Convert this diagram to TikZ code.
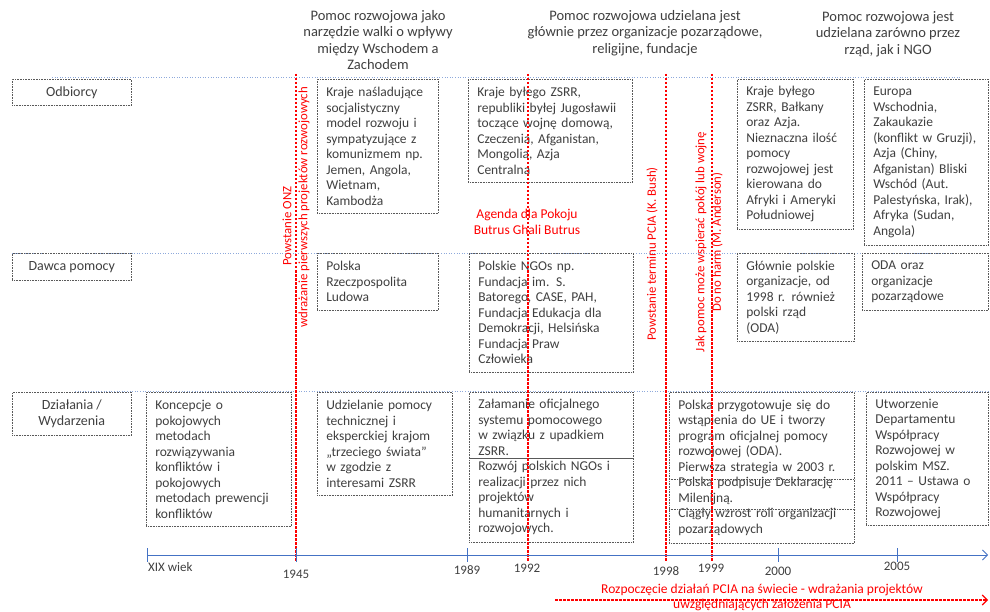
\documentclass[tikz,border=0pt]{standalone}
\usepackage{fontspec}
\setmainfont{Carlito}
\usepackage{tikz}
\usetikzlibrary{arrows.meta}
\definecolor{txtgray}{HTML}{404040}
\definecolor{boxgray}{HTML}{595959}
\definecolor{gridblue}{HTML}{8EA9DB}
\definecolor{axisblue}{HTML}{4472C4}
\definecolor{markred}{HTML}{FF0000}

\begin{document}
\begin{tikzpicture}[
    x=1pt, y=-1pt,
    font=\fontsize{13.5}{15.5}\selectfont,
    lbl/.style={draw=boxgray, densely dotted, line width=0.6pt, anchor=north west, minimum width=119pt, align=center, text=txtgray, inner sep=2pt, font=\fontsize{14}{16}\selectfont},
    cell/.style={draw=boxgray, densely dotted, line width=0.6pt, anchor=north west, align=left, inner xsep=9pt, inner ysep=5pt, text=txtgray},
    head/.style={align=center, text=txtgray, font=\fontsize{14.5}{16.3}\selectfont},
    gridline/.style={draw=gridblue, dotted, line width=0.6pt},
    redline/.style={draw=markred, dash pattern=on 2.5pt off 1.5pt, line width=1.1pt},
    redtxt/.style={text=markred, align=center, inner sep=1pt, font=\fontsize{12.8}{16.5}\selectfont},
    axis/.style={draw=axisblue, line width=0.8pt},
    yr/.style={text=txtgray, inner sep=1pt, font=\fontsize{13}{15}\selectfont},
    barb/.style={-{Straight Barb[length=5pt, width=10pt]}},
  ]
  \fill[white] (0,0) rectangle (990,612);
  \useasboundingbox (0,0) rectangle (990,612);

  % headers
  \node[head] (h1) at (378,40) {Pomoc rozwojowa jako\\narzędzie walki o wpływy\\między Wschodem a\\Zachodem};
  \node[head] (h2) at (645,33) {Pomoc rozwojowa udzielana jest\\głównie przez organizacje pozarządowe,\\religijne, fundacje};
  \node[head] (h3) at (888,34) {Pomoc rozwojowa jest\\udzielana zarówno przez\\rząd, jak i NGO};

  % row lines
  \draw[gridline] (52,77) -- (960,77);
  \draw[gridline] (12,253) -- (990,253);
  \draw[gridline] (75,391) -- (990,391);

  % row labels
  \node[lbl, minimum height=26pt] (odb) at (12,79) {Odbiorcy};
  \node[lbl, minimum height=27pt] (daw) at (12,253) {Dawca pomocy};
  \node[lbl, minimum height=43pt] (dzi) at (12,392) {Działania /\\Wydarzenia};

  % Odbiorcy
  \node[cell, text width=103pt, minimum height=134pt] (odbA) at (317,79) {Kraje naśladujące\\socjalistyczny\\model rozwoju i\\sympatyzujące z\\komunizmem np.\\Jemen, Angola,\\Wietnam,\\Kambodża};
  \node[cell, text width=146pt, minimum height=103pt] (odbB) at (468,79) {Kraje byłego ZSRR,\\republiki byłej Jugosławii\\toczące wojnę domową,\\Czeczenia, Afganistan,\\Mongolia, Azja\\Centralna};
  \node[cell, text width=98pt, minimum height=150pt] (odbC) at (737,79) {Kraje byłego\\ZSRR, Bałkany\\oraz Azja.\\Nieznaczna ilość\\pomocy\\rozwojowej jest\\kierowana do\\Afryki i Ameryki\\Południowej};
  \node[cell, text width=106pt, minimum height=166pt] (odbD) at (864,79) {Europa\\Wschodnia,\\Zakaukazie\\(konflikt w Gruzji),\\Azja (Chiny,\\Afganistan) Bliski\\Wschód (Aut.\\Palestyńska, Irak),\\Afryka (Sudan,\\Angola)};

  % Dawca pomocy
  \node[cell, text width=103pt, minimum height=57pt] (dawA) at (317,253) {Polska\\Rzeczpospolita\\Ludowa};
  \node[cell, text width=146pt, minimum height=119pt] (dawB) at (469,253) {Polskie NGOs np.\\Fundacja im. S.\\Batorego, CASE, PAH,\\Fundacja Edukacja dla\\Demokracji, Helsińska\\Fundacja Praw\\Człowieka};
  \node[cell, text width=99pt, minimum height=88pt] (dawC) at (737,253) {Głównie polskie\\organizacje, od\\1998 r. również\\polski rząd\\(ODA)};
  \node[cell, text width=108pt, minimum height=57pt] (dawD) at (862,253) {ODA oraz\\organizacje\\pozarządowe};

  % Dzialania / Wydarzenia
  \node[cell, text width=127pt, minimum height=134pt] (dziK) at (146,392) {Koncepcje o\\pokojowych\\metodach\\rozwiązywania\\konfliktów i\\pokojowych\\metodach prewencji\\konfliktów};
  \node[cell, text width=117pt, minimum height=103pt] (dziA) at (317,392) {Udzielanie pomocy\\technicznej i\\eksperckiej krajom\\„trzeciego świata”\\w zgodzie z\\interesami ZSRR};
  \node[cell, text width=146pt, minimum height=150pt] (dziB) at (469,392) {Załamanie oficjalnego\\systemu pomocowego\\w związku z upadkiem\\ZSRR.\\Rozwój polskich NGOs i\\realizacji przez nich\\projektów\\humanitarnych i\\rozwojowych.};
  \node[cell, text width=167pt, minimum height=151pt] (dziC) at (669,392) {Polska przygotowuje się do\\wstąpienia do UE i tworzy\\program oficjalnej pomocy\\rozwojowej (ODA).\\Pierwsza strategia w 2003 r.\\Polska podpisuje Deklarację\\Milenijną.\\Ciągły wzrost roli organizacji\\pozarządowych};
  \node[cell, text width=104pt, minimum height=133pt] (dziD) at (866,392) {Utworzenie\\Departamentu\\Współpracy\\Rozwojowej w\\polskim MSZ.\\2011 -- Ustawa o\\Współpracy\\Rozwojowej};
  \draw[boxgray, line width=0.6pt] (dziB.west |- 0,458) -- (dziB.east |- 0,458);
  \foreach \y in {479,509}{
    \draw[boxgray, densely dotted, line width=0.6pt] (dziC.west |- 0,\y) -- (dziC.east |- 0,\y);
  }

  % red markers
  \foreach \x in {296,528,666,712}{
    \draw[redline] (\x,74) -- (\x,562);
  }
  \node[redtxt, rotate=90] (onz) at (287,226) {Powstanie ONZ};
  \node[redtxt, rotate=90] (wdr) at (304,207) {wdrażanie pierwszych projektów rozwojowych};
  \node[redtxt, font=\fontsize{13.5}{16}\selectfont] (agenda) at (527,222) {Agenda dla Pokoju\\Butrus Ghali Butrus};
  \node[redtxt, rotate=90] (bush) at (652,254) {Powstanie terminu PCIA (K. Bush)};
  \node[redtxt, rotate=90] (anders) at (709,242) {Jak pomoc może wspierać pokój lub wojnę\\Do no harm (M. Anderson)};

  % time axis
  \coordinate (ax0) at (147,555);
  \coordinate (ax1) at (988,555);
  \draw[axis, barb] (ax0) -- (ax1);
  \foreach \x in {147,296,467,778,897}{
    \draw[axis] (\x,548) -- (\x,562);
  }
  \node[yr, anchor=west] (xix) at (147,567) {XIX wiek};
  \foreach \x/\y/\t in {296/574/1945, 467/570/1989, 527/568/1992, 666/571/1998, 711/568/1999, 778/571/2000, 897/566/2005}{
    \node[yr] (y\t) at (\x,\y) {\t};
  }

  % PCIA arrow
  \coordinate (pcia0) at (555,600);
  \coordinate (pcia1) at (988,600);
  \draw[redline, barb] (pcia0) -- (pcia1);
  \node[redtxt, font=\fontsize{13.5}{15}\selectfont] (pcia) at (762,597) {Rozpoczęcie działań PCIA na świecie - wdrażania projektów\\uwzględniających założenia PCIA};
\end{tikzpicture}
\end{document}
